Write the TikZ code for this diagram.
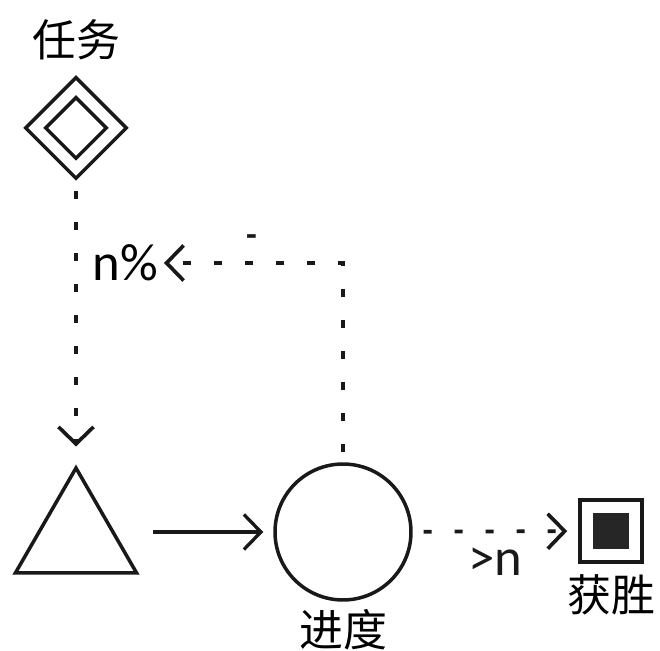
\documentclass[tikz,border=0pt]{standalone}
\usepackage{fontspec}
\setmainfont{Carlito}
\newfontfamily\cjk{Noto Sans CJK SC}
\usetikzlibrary{shapes.geometric, arrows.meta, positioning}

\begin{document}
\begin{tikzpicture}[x=0.02cm, y=-0.02cm,
          state/.style={draw=black!90, line width=2pt, inner sep=0pt},
          cnlabel/.style={font=\cjk\fontsize{25}{26}\selectfont, inner sep=0pt},
          txlabel/.style={font=\fontsize{30}{31}\selectfont, inner sep=1pt},
          arrow/.style={-{Straight Barb[length=0.34cm, width=0.7cm]}, line width=1.9pt, color=black!90},
          dasharrow/.style={arrow, line width=2.1pt, dash pattern=on 0.16cm off 0.46cm}]

        \useasboundingbox (0,0) rectangle (660,651);

        % shapes
        \node [state, diamond, minimum size=2.04cm] (task) at (76,128) {};
        \node [state, diamond, minimum size=1.24cm] (task_in) at (task) {};
        \node [state, regular polygon, regular polygon sides=3, minimum size=2.8cm] (tri) at (76,538) {};
        \node [state, circle, minimum size=2.72cm] (prog) at (343,532) {};
        \node [state, rectangle, minimum size=1.24cm] (goal) at (611,531) {};
        \node [fill=black!85, minimum size=0.72cm, inner sep=0pt] (goal_in) at (goal) {};

        % labels
        \node [cnlabel, above=0.3cm of task] (task_lbl) {任务};
        \node [cnlabel, below=0.15cm of prog] (prog_lbl) {进度};
        \node [cnlabel, below=0.22cm of goal] (goal_lbl) {获胜};
        \node [txlabel, anchor=east] (pct) at (160,263) {n\%};

        % connectors
        \draw [dasharrow, shorten <=0.2cm, shorten >=0.36cm] (task) -- (tri);
        \draw [arrow, shorten <=0.7cm, shorten >=0.2cm] (tri.east |- prog) -- (prog);
        \draw [dasharrow, shorten <=0.22cm, shorten >=0.22cm] (prog) -- node [txlabel, below=0.25cm] (gt_lbl) {>n} (goal);
        \draw [dasharrow, shorten <=0.2cm, shorten >=0.08cm] (prog) |- node [pos=0.75, above=0.3cm, font=\bfseries\fontsize{20}{20}\selectfont, inner sep=0pt] (dash_lbl) {-} (pct);
      \end{tikzpicture}
\end{document}
